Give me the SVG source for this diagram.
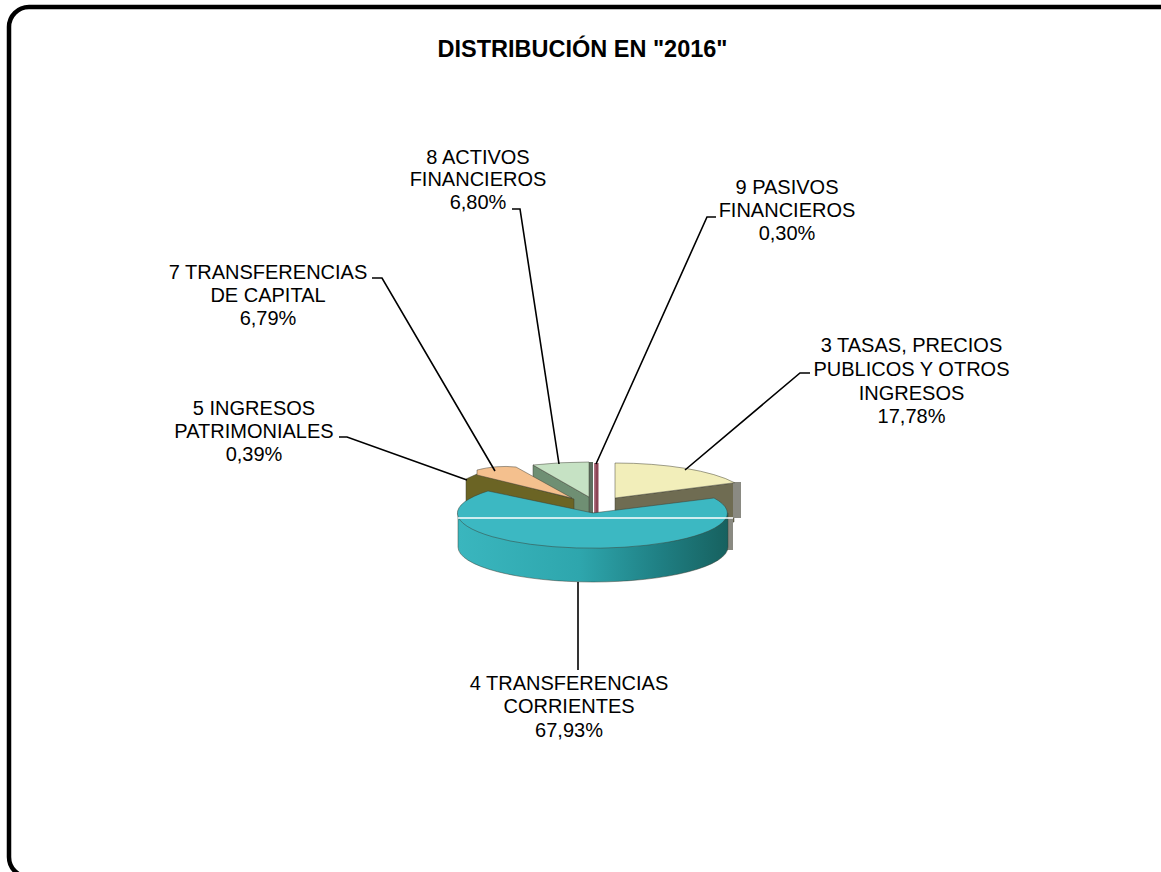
<svg xmlns="http://www.w3.org/2000/svg" width="1161" height="872" viewBox="0 0 1161 872">
<style>
  .lbl { font-family: "Liberation Sans", Arial, sans-serif; font-size: 20px; fill: #000; text-anchor: middle; }
  .title { font-family: "Liberation Sans", Arial, sans-serif; font-size: 23.5px; font-weight: bold; fill: #000; text-anchor: middle; }
  .lead { fill: none; stroke: #000; stroke-width: 1.6; }
  .edge { stroke: #3a3a30; stroke-width: 0.8; stroke-opacity: 0.6; }
</style>
<defs>
  <linearGradient id="tealSide" x1="458" y1="0" x2="728" y2="0" gradientUnits="userSpaceOnUse">
    <stop offset="0" stop-color="#3ab6be"/>
    <stop offset="0.45" stop-color="#2ea6ad"/>
    <stop offset="0.75" stop-color="#1f7f83"/>
    <stop offset="1" stop-color="#17615f"/>
  </linearGradient>
</defs>
<rect x="0" y="0" width="1161" height="872" fill="#fff"/>
<rect id="frame" x="9" y="7" width="1175" height="870" rx="20" ry="20" fill="none" stroke="#000" stroke-width="4.5"/>

<text class="title" x="582.5" y="57">DISTRIBUCIÓN EN "2016"</text>

<g id="pie">
  <g id="slice-3">
    <polygon points="615,498 734,483 734,522 615,537" fill="#6f6c52" class="edge"/>
    <rect x="733" y="482" width="8" height="36" fill="#8a8a82"/>
    <path d="M615,498 L615,463 A133,35 0 0 1 734.5,482.7 Z" fill="#f2eeba" class="edge"/>
  </g>
  <g id="slice-9">
    <rect x="594" y="463" width="4.5" height="51" fill="#8a4455"/>
    <rect x="594" y="463" width="1.5" height="51" fill="#b07080"/>
  </g>
  <g id="slice-8">
    <polygon points="589,462 593,462 593,521 589,521" fill="#5d6e5f"/>
    <polygon points="533,465 589,497 589,521 533,492" fill="#6f8f73" class="edge"/>
    <path d="M589,497 L589,462 Q560,462 533,465 Z" fill="#c6e2c4" class="edge"/>
  </g>
  <g id="slice-5">
    <polygon points="466,479 477,474 574,499 574,522 466,516" fill="#6b6424" class="edge"/>
  </g>
  <g id="slice-7">
    <path d="M572,498 L516,467 Q496,465 477,470 L477,475 Z" fill="#f4c08e" class="edge"/>
  </g>
  <g id="slice-4">
    <rect x="727" y="517" width="6" height="33" fill="#8a8a82"/>
    <path d="M458,513 L458,547 A135,35 0 0 0 728,547 L728,513 Z" fill="url(#tealSide)" class="edge"/>
    <path d="M593,513 L714,498 A135,35 0 1 1 488,491 Z" fill="#3cb8c2" class="edge"/>
    <line x1="458" y1="518" x2="733" y2="518" stroke="#ffffff" stroke-width="1.5"/>
  </g>
</g>

<g id="connectors">
  <polyline class="lead" points="512,209 520,209 559,464"/>
  <polyline class="lead" points="716,217 707,217 596,464"/>
  <polyline class="lead" points="372,278 382,278 495,471"/>
  <polyline class="lead" points="339,437 347,437 467,480"/>
  <polyline class="lead" points="810,373 800,373 685,470"/>
  <line class="lead" x1="578" y1="582" x2="578" y2="670"/>
</g>

<g id="label-8">
  <text class="lbl" x="478" y="163.5">8 ACTIVOS</text>
  <text class="lbl" x="478" y="186">FINANCIEROS</text>
  <text class="lbl" x="478" y="208.5">6,80%</text>
</g>
<g id="label-9">
  <text class="lbl" x="787" y="194">9 PASIVOS</text>
  <text class="lbl" x="787" y="217">FINANCIEROS</text>
  <text class="lbl" x="787" y="240">0,30%</text>
</g>
<g id="label-7">
  <text class="lbl" x="268" y="279">7 TRANSFERENCIAS</text>
  <text class="lbl" x="268" y="302">DE CAPITAL</text>
  <text class="lbl" x="268" y="325">6,79%</text>
</g>
<g id="label-5">
  <text class="lbl" x="254" y="415">5 INGRESOS</text>
  <text class="lbl" x="254" y="438">PATRIMONIALES</text>
  <text class="lbl" x="254" y="461">0,39%</text>
</g>
<g id="label-3">
  <text class="lbl" x="911.5" y="352">3 TASAS, PRECIOS</text>
  <text class="lbl" x="911.5" y="376">PUBLICOS Y OTROS</text>
  <text class="lbl" x="911.5" y="400">INGRESOS</text>
  <text class="lbl" x="911.5" y="423">17,78%</text>
</g>
<g id="label-4">
  <text class="lbl" x="569" y="690">4 TRANSFERENCIAS</text>
  <text class="lbl" x="569" y="713">CORRIENTES</text>
  <text class="lbl" x="569" y="737">67,93%</text>
</g>
</svg>
